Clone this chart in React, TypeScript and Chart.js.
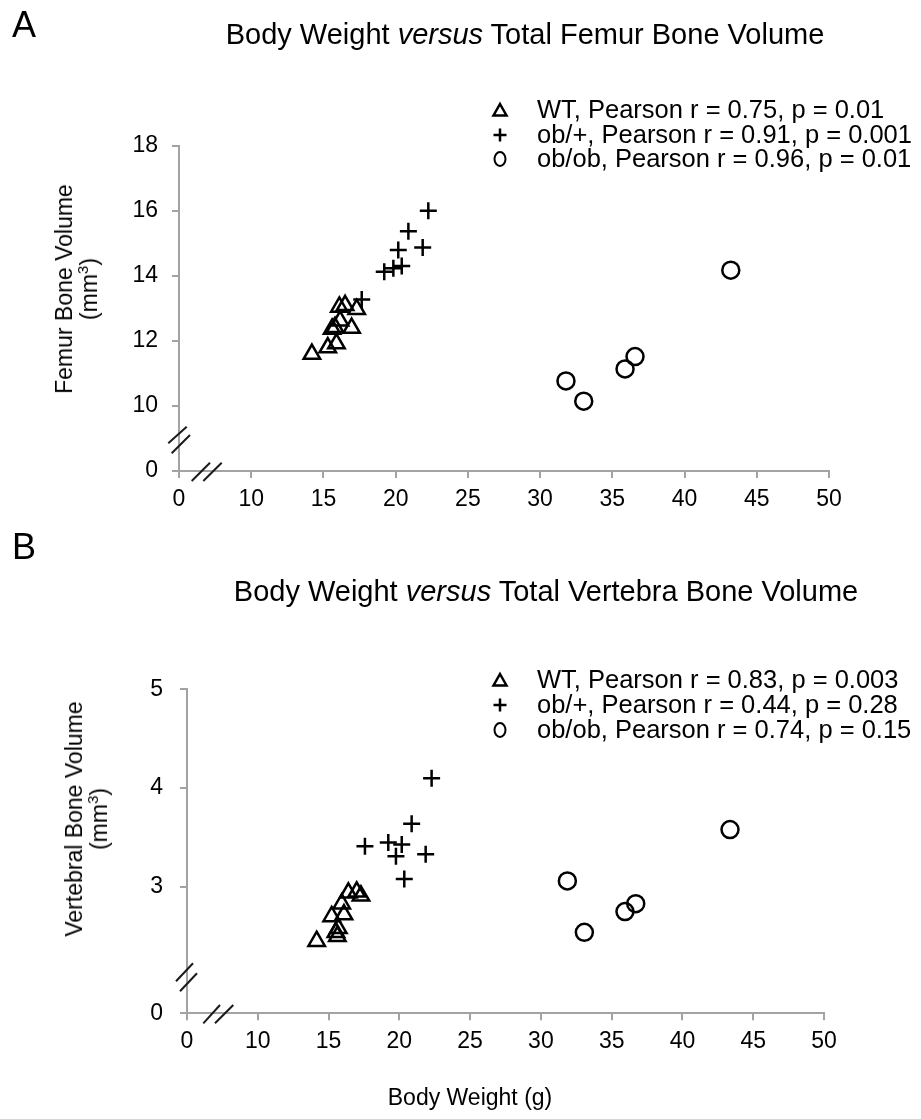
import React, { useEffect, useRef } from 'react';
import { Chart, registerables } from 'chart.js';

Chart.register(...registerables);

const FONT = '"Liberation Sans", Arial, Helvetica, sans-serif';
const AXIS = '#a3a3a3';
const W = 921;

// ---- shared x axis ----
const xTickValues = [5, 10, 15, 20, 25, 30, 35, 40, 45, 50];
const xTickLabels = ['0', '10', '15', '20', '25', '30', '35', '40', '45', '50'];

// ---- Panel A: femur ----
const femurYTickValues = [8, 10, 12, 14, 16, 18];
const femurYTickLabels = ['0', '10', '12', '14', '16', '18'];
const femurWTWeight = [14.2, 15.3, 15.9, 15.6, 15.8, 16.15, 16.95, 16.1, 16.5, 17.3];
const femurWTVolume = [11.6, 11.8, 11.92, 12.37, 12.42, 12.62, 12.4, 13.05, 13.1, 12.98];
const femurObPlusWeight = [22.26, 20.88, 21.87, 20.18, 20.42, 19.84, 19.21, 17.65];
const femurObPlusVolume = [16.01, 15.38, 14.88, 14.8, 14.31, 14.24, 14.13, 13.28];
const femurObObWeight = [43.2, 36.57, 35.88, 31.79, 33.02];
const femurObObVolume = [14.18, 11.52, 11.14, 10.77, 10.15];
const femurLegend = [
  'WT, Pearson r = 0.75, p = 0.01',
  'ob/+, Pearson r = 0.91, p = 0.001',
  'ob/ob, Pearson r = 0.96, p = 0.01',
];

// ---- Panel B: vertebra ----
const vertYTickValues = [1.72, 3, 4, 5];
const vertYTickLabels = ['0', '3', '4', '5'];
const vertWTWeight = [14.16, 15.22, 15.69, 15.62, 15.52, 16.09, 15.93, 16.4, 16.99, 17.29];
const vertWTVolume = [2.45, 2.7, 2.58, 2.5, 2.54, 2.72, 2.83, 2.94, 2.95, 2.91];
const vertObPlusWeight = [22.28, 20.87, 17.57, 19.22, 20.17, 19.76, 21.86, 20.35];
const vertObPlusVolume = [4.1, 3.64, 3.41, 3.45, 3.43, 3.31, 3.33, 3.08];
const vertObObWeight = [43.36, 31.87, 36.7, 35.94, 33.07];
const vertObObVolume = [3.58, 3.06, 2.83, 2.75, 2.54];
const vertLegend = [
  'WT, Pearson r = 0.83, p = 0.003',
  'ob/+, Pearson r = 0.44, p = 0.28',
  'ob/ob, Pearson r = 0.74, p = 0.15',
];

const markerStyles = ['triangle', 'cross', 'circle'];
const markerRadius = [9.5, 8.5, 8.5];

type PanelCfg = {
  canvasTop: number;
  canvasHeight: number;
  area: { left: number; right: number; top: number; bottom: number };
  yMin: number;
  yMax: number;
  yTicks: number[];
  yLabels: string[];
  yPad: number;
  xs: number[][];
  ys: number[][];
  legend: string[];
  legendRows: number[];
  yBreak: number[][];
  xBreak: number[][];
};

const X_AXIS_H = 60;

const decorPlugin = {
  id: 'decor',
  afterDraw(chart: any, _args: any, opts: any) {
    const ctx = chart.ctx as CanvasRenderingContext2D;
    const { left, bottom } = chart.chartArea;
    ctx.save();
    // axis break marks
    ctx.strokeStyle = '#1a1a1a';
    ctx.lineWidth = 2;
    for (const seg of opts.yBreak || []) {
      ctx.beginPath();
      ctx.moveTo(left + seg[0], bottom + seg[1]);
      ctx.lineTo(left + seg[2], bottom + seg[3]);
      ctx.stroke();
    }
    for (const seg of opts.xBreak || []) {
      ctx.beginPath();
      ctx.moveTo(left + seg[0], bottom + seg[1]);
      ctx.lineTo(left + seg[2], bottom + seg[3]);
      ctx.stroke();
    }
    // legend
    const mx = 500;
    const tx = 537;
    ctx.strokeStyle = '#000';
    ctx.fillStyle = '#000';
    ctx.lineJoin = 'miter';
    (opts.labels || []).forEach((label: string, i: number) => {
      const y = opts.rows[i];
      const style = markerStyles[i];
      ctx.lineWidth = 2.5;
      ctx.beginPath();
      if (style === 'triangle') {
        ctx.moveTo(mx, y - 6);
        ctx.lineTo(mx + 6.5, y + 5.5);
        ctx.lineTo(mx - 6.5, y + 5.5);
        ctx.closePath();
      } else if (style === 'cross') {
        ctx.moveTo(mx - 6.5, y);
        ctx.lineTo(mx + 6.5, y);
        ctx.moveTo(mx, y - 6.5);
        ctx.lineTo(mx, y + 6.5);
      } else {
        ctx.lineWidth = 2;
        ctx.ellipse(mx, y, 5.5, 7, 0, 0, Math.PI * 2);
      }
      ctx.stroke();
      ctx.font = `25.5px ${FONT}`;
      ctx.textBaseline = 'middle';
      ctx.textAlign = 'left';
      ctx.fillText(label, tx, y + 1);
    });
    ctx.restore();
  },
};

function ScatterPanel({ cfg }: { cfg: PanelCfg }) {
  const ref = useRef<HTMLCanvasElement>(null);
  useEffect(() => {
    const canvas = ref.current;
    if (!canvas) return;
    const a = cfg.area;
    const chart = new Chart(canvas, {
      type: 'scatter',
      data: {
        datasets: cfg.xs.map((xArr, k) => ({
          label: cfg.legend[k],
          data: xArr.map((x, i) => ({ x, y: cfg.ys[k][i] })),
          pointStyle: markerStyles[k] as any,
          pointRadius: markerRadius[k],
          pointHoverRadius: markerRadius[k],
          pointBorderWidth: 2.5,
          pointBorderColor: '#000',
          pointBackgroundColor: 'rgba(0,0,0,0)',
          borderColor: '#000',
          backgroundColor: 'rgba(0,0,0,0)',
          showLine: false,
          clip: false as any,
        })),
      },
      options: {
        responsive: false,
        animation: false,
        devicePixelRatio: 1,
        events: [],
        layout: {
          padding: {
            left: 0,
            top: a.top,
            right: W - a.right,
            bottom: cfg.canvasHeight - a.bottom - X_AXIS_H,
          },
        },
        plugins: {
          legend: { display: false },
          tooltip: { enabled: false },
          title: { display: false },
          decor: {
            labels: cfg.legend,
            rows: cfg.legendRows,
            yBreak: cfg.yBreak,
            xBreak: cfg.xBreak,
          },
        } as any,
        scales: {
          x: {
            type: 'linear',
            position: 'bottom',
            min: 5,
            max: 50,
            afterBuildTicks: (s: any) => {
              s.ticks = xTickValues.map((v) => ({ value: v }));
            },
            afterFit: (s: any) => {
              s.height = X_AXIS_H;
            },
            ticks: {
              callback: (_v: any, i: number) => xTickLabels[i],
              font: { family: FONT, size: 23 },
              color: '#000',
              padding: 8,
              maxRotation: 0,
              autoSkip: false,
            },
            grid: {
              drawOnChartArea: false,
              drawTicks: true,
              tickLength: 7,
              color: AXIS,
              lineWidth: 2,
            },
            border: { display: true, color: AXIS, width: 2 },
          },
          y: {
            type: 'linear',
            position: 'left',
            min: cfg.yMin,
            max: cfg.yMax,
            afterBuildTicks: (s: any) => {
              s.ticks = cfg.yTicks.map((v) => ({ value: v }));
            },
            afterFit: (s: any) => {
              s.width = a.left;
            },
            ticks: {
              callback: (_v: any, i: number) => cfg.yLabels[i],
              font: { family: FONT, size: 23 },
              color: '#000',
              padding: cfg.yPad,
              autoSkip: false,
            },
            grid: {
              drawOnChartArea: false,
              drawTicks: true,
              tickLength: 7,
              color: AXIS,
              lineWidth: 2,
            },
            border: { display: true, color: AXIS, width: 2 },
          },
        },
      },
      plugins: [decorPlugin as any],
    });
    return () => chart.destroy();
  }, [cfg]);
  return (
    <canvas
      ref={ref}
      width={W}
      height={cfg.canvasHeight}
      style={{ position: 'absolute', left: 0, top: cfg.canvasTop, display: 'block' }}
    />
  );
}

const panelA: PanelCfg = {
  canvasTop: 0,
  canvasHeight: 540,
  area: { left: 179, right: 829, top: 146, bottom: 471 },
  yMin: 8,
  yMax: 18,
  yTicks: femurYTickValues,
  yLabels: femurYTickLabels,
  yPad: 14,
  xs: [femurWTWeight, femurObPlusWeight, femurObObWeight],
  ys: [femurWTVolume, femurObPlusVolume, femurObObVolume],
  legend: femurLegend,
  legendRows: [110, 135, 159],
  yBreak: [
    [-10.7, -27.7, 7.7, -44.3],
    [-7.3, -17.7, 11, -36],
  ],
  xBreak: [
    [12.7, 10, 31, -8.3],
    [24.3, 10, 42.7, -8.3],
  ],
};

const panelB: PanelCfg = {
  canvasTop: 540,
  canvasHeight: 579,
  area: { left: 187, right: 824, top: 149.3, bottom: 473.3 },
  yMin: 1.72,
  yMax: 5,
  yTicks: vertYTickValues,
  yLabels: vertYTickLabels,
  yPad: 17,
  xs: [vertWTWeight, vertObPlusWeight, vertObObWeight],
  ys: [vertWTVolume, vertObPlusVolume, vertObObVolume],
  legend: vertLegend,
  legendRows: [140, 165, 190],
  yBreak: [
    [-11, -32, 6, -50],
    [-7, -22, 10, -40],
  ],
  xBreak: [
    [16.3, 10, 33, -8.3],
    [28, 10, 46.3, -8.3],
  ],
};

const textBase: React.CSSProperties = {
  position: 'absolute',
  fontFamily: FONT,
  color: '#000',
  whiteSpace: 'nowrap',
  lineHeight: 1,
};

function YTitle({ cx, cy, line1 }: { cx: number; cy: number; line1: string }) {
  return (
    <div
      style={{
        ...textBase,
        left: cx,
        top: cy,
        fontSize: 23,
        lineHeight: '25px',
        textAlign: 'center',
        transform: 'translate(-50%, -50%) rotate(-90deg)',
      }}
    >
      <div>{line1}</div>
      <div>
        (mm<sup style={{ fontSize: 15, lineHeight: 0 }}>3</sup>)
      </div>
    </div>
  );
}

export default function App() {
  return (
    <div
      style={{
        position: 'absolute',
        left: 0,
        top: 0,
        width: W,
        height: 1119,
        background: '#fff',
        overflow: 'hidden',
      }}
    >
      <ScatterPanel cfg={panelA} />
      <ScatterPanel cfg={panelB} />

      <div style={{ ...textBase, left: 12, top: 7, fontSize: 36 }}>A</div>
      <div
        style={{ ...textBase, left: 525, top: 20, fontSize: 29, transform: 'translateX(-50%)' }}
      >
        Body Weight <i>versus</i> Total Femur Bone Volume
      </div>
      <YTitle cx={76.5} cy={289} line1="Femur Bone Volume" />

      <div style={{ ...textBase, left: 12, top: 529, fontSize: 36 }}>B</div>
      <div
        style={{ ...textBase, left: 546, top: 577, fontSize: 29, transform: 'translateX(-50%)' }}
      >
        Body Weight <i>versus</i> Total Vertebra Bone Volume
      </div>
      <YTitle cx={86.5} cy={818.5} line1="Vertebral Bone Volume" />

      <div
        style={{ ...textBase, left: 470, top: 1086, fontSize: 23, transform: 'translateX(-50%)' }}
      >
        Body Weight (g)
      </div>
    </div>
  );
}
